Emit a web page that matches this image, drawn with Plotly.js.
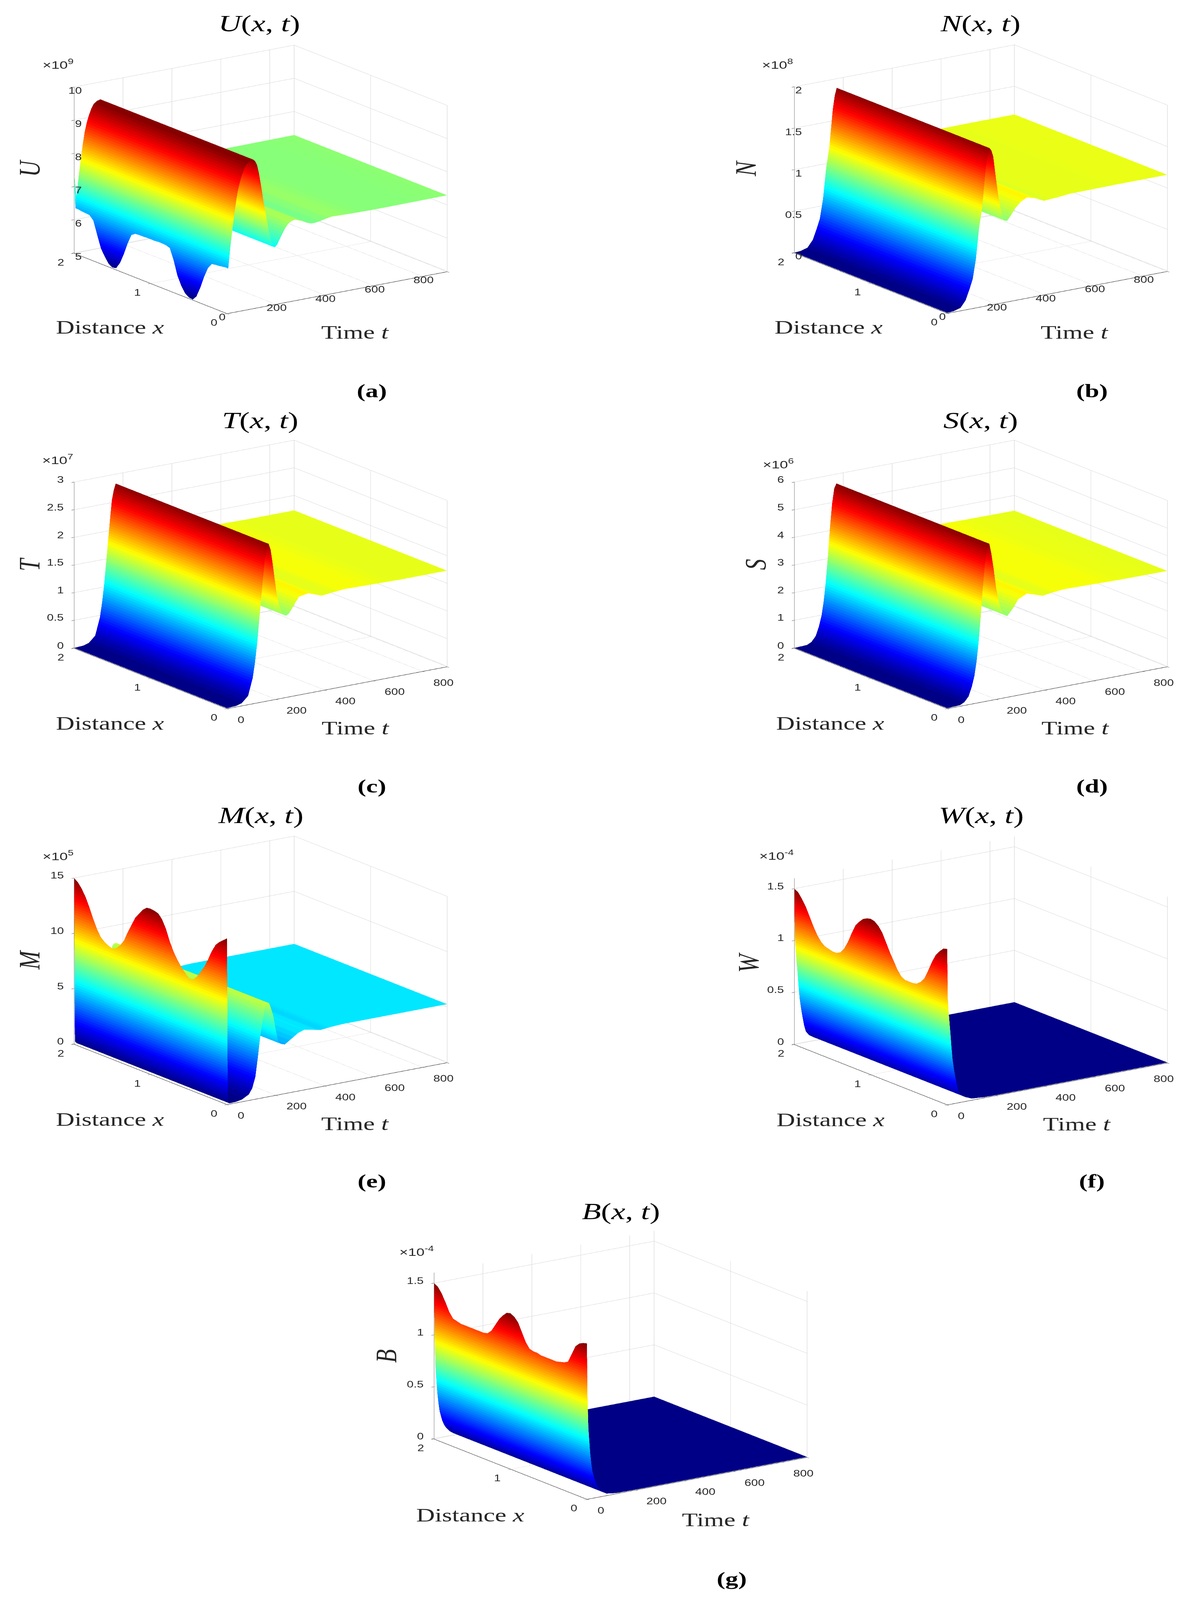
<!DOCTYPE html>
<html><head><meta charset="utf-8"><script src="https://cdn.plot.ly/plotly-3.0.1.min.js"></script>
<style>html,body{margin:0;padding:0;background:#fff}</style></head><body><div id="g" style="width:3040px;height:5476px;transform-origin:0 0"></div>
<script>
const distance=[0,.05,.1,.15,.2,.25,.3,.35,.4,.45,.5,.55,.6,.65,.7,.75,.8,.85,.9,.95,1,1.05,1.1,1.15,1.2,1.25,1.3,1.35,1.4,1.45,1.5,1.55,1.6,1.65,1.7,1.75,1.8,1.85,1.9,1.95,2];
const distanceTicks=[0,1,2];
const timeTicks=[0,200,400,600,800,900];
const timeLabels=['0','200','400','600','800',''];

const timeU=[0,5,13,20,27,35,43,51,59,70,80,93,107,115,123,130,136,143,149,156,163,171,179,187,195,205,214,224,237,251,264,277,292,309,326,344,361,379,403,427,470,512,592,672,900];
const valueU=[6.3,6.34,6.94,7.38,7.80,8.22,8.59,8.84,9.04,9.25,9.38,9.45,9.48,9.42,9.29,9.05,8.79,8.47,8.17,7.87,7.57,7.25,6.95,6.78,6.71,6.78,6.91,7.05,7.22,7.35,7.41,7.43,7.39,7.34,7.27,7.22,7.22,7.24,7.28,7.31,7.30,7.29,7.28,7.28,7.29];
const startU=[6.37,6.35,6.33,6.32,6.30,6.13,5.82,5.45,5.14,5.00,5.02,5.10,5.28,5.54,5.96,6.28,6.32,6.33,6.33,6.32,6.32,6.32,6.31,6.31,6.30,6.22,5.92,5.55,5.24,5.04,5.01,5.08,5.25,5.45,5.82,6.20,6.32,6.33,6.34,6.36,7.40];

const timeN=[0,25,54,75,91,104,117,130,142,150,157,165,173,180,188,197,207,216,226,235,244,260,276,300,326,360,395,450,501,700,900];
const valueN=[0,.005,.03,.11,.235,.35,.58,.95,1.17,1.42,1.64,1.80,1.89,1.86,1.78,1.56,1.33,1.16,1.03,.98,.97,1.03,1.10,1.17,1.21,1.18,1.13,1.14,1.155,1.16,1.16];

const timeT=[0,37,60,86,105,114,123,132,141,148,154,162,170,178,185,194,203,213,224,233,242,253,264,280,295,332,387,430,480,700,900];
const valueT=[0,.01,.04,.15,.46,.72,1.06,1.5,1.94,2.27,2.54,2.72,2.83,2.72,2.51,2.2,1.89,1.68,1.54,1.49,1.47,1.50,1.57,1.68,1.77,1.80,1.71,1.73,1.75,1.73,1.73];

const timeS=[0,52,70,87,100,111,120,128,137,145,154,163,172,180,190,200,212,225,235,245,258,272,290,326,360,390,430,477,700,900];
const valueS=[0,.02,.1,.28,.6,.98,1.5,2.15,3.1,4.07,4.95,5.5,5.66,5.3,4.7,4.0,3.45,3.1,2.98,2.92,3.05,3.2,3.45,3.6,3.5,3.41,3.46,3.5,3.46,3.45];

const timeM=[0,3,10,36,60,89,103,116,126,136,146,156,164,172,180,189,199,209,222,236,250,270,290,316,350,383,430,476,700,900];
const valueM=[15,.2,.03,.05,.15,.5,1.0,2,3.7,5.6,7.0,8.2,8.4,8.4,7.9,7.2,5.9,4.8,4.5,4.4,4.6,4.9,5.2,5.4,5.25,5.1,5.2,5.25,5.25,5.25];
const startM=[15,14.7,14.4,14,13.3,12.4,11.6,11,10.4,10.05,10.05,10.4,10.8,11.3,11.9,12.7,13.7,14.4,14.8,14.9,14.95,14.9,14.6,14.1,13.6,12.8,12,11.1,10.55,10.15,10,10.1,10.3,10.6,11.2,12,12.9,13.7,14.3,14.75,15];

const timeW=[0,2,6,13,17,22,28,33,40,47,60,76,100,150,200,400,600,900];
const valueW=[1.5,1.02,.88,.68,.55,.42,.32,.25,.16,.1,.06,.035,.012,.002,0,0,0,0];
const startW=[1.5,1.49,1.45,1.4,1.32,1.22,1.13,1.08,1.05,1.04,1.04,1.04,1.06,1.11,1.18,1.25,1.33,1.41,1.46,1.49,1.5,1.49,1.47,1.43,1.38,1.29,1.19,1.11,1.06,1.04,1.04,1.05,1.06,1.09,1.14,1.21,1.29,1.37,1.43,1.48,1.5];

const timeB=[0,2,6,13,18,23,33,42,50,65,80,120,200,400,600,900];
const valueB=[1.5,1,.68,.44,.33,.25,.16,.11,.08,.04,.015,.002,0,0,0,0];
const startB=[1.5,1.49,1.47,1.43,1.34,1.25,1.23,1.22,1.21,1.21,1.21,1.21,1.21,1.22,1.22,1.23,1.28,1.36,1.44,1.48,1.5,1.49,1.45,1.4,1.33,1.26,1.22,1.21,1.21,1.21,1.21,1.21,1.21,1.21,1.22,1.23,1.28,1.36,1.43,1.48,1.5];

const ticksU=[5,6,7,8,9,10], ticksN=[0,.5,1,1.5,2], ticksT=[0,.5,1,1.5,2,2.5,3], ticksS=[0,1,2,3,4,5,6], ticksM=[0,5,10,15], ticksW=[0,.5,1,1.5], ticksB=[0,.5,1,1.5];

const W=3040,H=5476,SIZE=1040,EYE=1.516,ASPECT=1.319;
const eyeDir={x:-.531,y:-.764,z:.3666};
const SANS='"Liberation Sans",Arial,sans-serif', SERIF='"Liberation Serif",serif';
const INK='rgb(38,38,38)';

function jet(){const out=[],c=v=>Math.round(255*Math.max(0,Math.min(1,v)));
 for(let i=0;i<64;i++){const v=(i+.5)/64;
  const col=`rgb(${c(Math.min(4*v-1.5,-4*v+4.5))},${c(Math.min(4*v-.5,-4*v+3.5))},${c(Math.min(4*v+.5,-4*v+2.5))})`;
  out.push([i/64,col],[(i+1)/64,col]);}
 return out;}
const JET=jet();

const panels=[
 {id:'',name:'U',tag:'a',t:timeU,v:valueU,s:startU,ticks:ticksU,range:[5,10],cmin:5,cmax:9.48,exp:'9',c:[667,614],title:[663,80],dist:[281,1120],time:[908,1136],zl:[75,576],mul:[148,219],lab:[952,1337],mode:'A'},
 {id:'2',name:'N',tag:'b',t:timeN,v:valueN,ticks:ticksN,range:[0,2],cmin:0,cmax:1.92,exp:'8',c:[2510,613],title:[2508,80],dist:[2120,1120],time:[2749,1136],zl:[1908,576],mul:[1990,219],lab:[2794,1337],mode:'A'},
 {id:'3',name:'T',tag:'c',t:timeT,v:valueT,ticks:ticksT,range:[0,3],cmin:0,cmax:2.87,exp:'7',c:[667,1966],title:[666,1438],dist:[281,2475],time:[909,2490],zl:[75,1932],mul:[147,1572],lab:[952,2690],mode:'B'},
 {id:'4',name:'S',tag:'d',t:timeS,v:valueS,ticks:ticksS,range:[0,6],cmin:0,cmax:5.72,exp:'6',c:[2510,1966],title:[2509,1438],dist:[2124,2475],time:[2751,2490],zl:[1933,1932],mul:[1991,1587],lab:[2794,2690],mode:'B'},
 {id:'5',name:'M',tag:'e',t:timeM,v:valueM,s:startM,ticks:ticksM,range:[0,15],cmin:0,cmax:15,exp:'5',c:[667,3321],title:[667,2790],dist:[281,3830],time:[908,3845],zl:[75,3285],mul:[148,2928],lab:[952,4042],mode:'B'},
 {id:'6',name:'W',tag:'f',t:timeW,v:valueW,s:startW,ticks:ticksW,range:[0,1.6],cmin:0,cmax:1.5,exp:'-4',c:[2510,3322],title:[2511,2790],dist:[2125,3831],time:[2755,3846],zl:[1915,3294],mul:[1987,2926],lab:[2794,4042],mode:'B'},
 {id:'7',name:'B',tag:'g',t:timeB,v:valueB,s:startB,ticks:ticksB,range:[0,1.6],cmin:0,cmax:1.5,exp:'-4',c:[1588,4672],title:[1589,4145],dist:[1203,5184],time:[1831,5200],zl:[988,4641],mul:[1066,4282],lab:[1872,5403],mode:'B'}
];

const traces=[],layout={width:W,height:H,margin:{l:0,r:0,t:0,b:0},paper_bgcolor:'#fff',showlegend:false,annotations:[]};
const paperNote=(p,text,size,family,color,extra)=>Object.assign({xref:'paper',yref:'paper',x:p[0]/W,y:1-p[1]/H,text,showarrow:false,xanchor:'center',yanchor:'middle',font:{size,family,color}},extra||{});
const sceneAxis=(vals,range)=>({range,tickmode:'array',tickvals:vals,showticklabels:false,ticks:'outside',ticklen:8,tickwidth:2,tickcolor:'rgb(60,60,60)',showgrid:true,gridcolor:'rgb(205,205,205)',gridwidth:2,showline:true,linecolor:'rgb(60,60,60)',linewidth:3,zeroline:false,showbackground:false,showspikes:false,title:{text:''}});
const note3=(x,y,z,text,xanchor,xshift,yshift)=>({x,y,z,text:String(text),showarrow:false,xanchor,yanchor:'middle',xshift,yshift,font:{size:31,family:SANS,color:INK}});

panels.forEach(p=>{
 const scene='scene'+p.id;
 const z=distance.map((d,j)=>p.t.map((t,i)=>(i===0&&p.s)?p.s[j]:p.v[i]));
 traces.push({type:'surface',scene,x:p.t,y:distance,z,cmin:p.cmin,cmax:p.cmax,colorscale:JET,showscale:false,hoverinfo:'skip',
  lighting:{ambient:1,diffuse:0,specular:0,roughness:1,fresnel:0},contours:{x:{show:false,highlight:false},y:{show:false,highlight:false},z:{show:false,highlight:false}}});
 const notes=[];
 const floorZ=p.range[0]-.003*(p.range[1]-p.range[0]);
 p.ticks.forEach(v=>{notes.push(p.mode==='A'?note3(0,2,v,v,'right',21,-13):note3(0,2,v,v,'right',-25,8));});
 distanceTicks.forEach(v=>notes.push(note3(0,v,p.range[0],v,'center',-34,-33)));
 timeTicks.forEach((v,i)=>{ if(!timeLabels[i])return;
  notes.push(p.mode==='A'?note3(v,0,p.range[0],timeLabels[i],'center',i===0?-13:2,-14):note3(v,0,p.range[0],timeLabels[i],'left',25,-40));});
 layout[scene]={domain:{x:[(p.c[0]-SIZE/2)/W,(p.c[0]+SIZE/2)/W],y:[1-(p.c[1]+SIZE/2)/H,1-(p.c[1]-SIZE/2)/H]},
  aspectmode:'manual',aspectratio:{x:ASPECT,y:ASPECT,z:.892*ASPECT},
  camera:{projection:{type:'orthographic'},up:{x:0,y:0,z:1},center:{x:0,y:0,z:0},eye:{x:eyeDir.x*EYE,y:eyeDir.y*EYE,z:eyeDir.z*EYE}},
  xaxis:sceneAxis(timeTicks,[0,900]),yaxis:sceneAxis(distanceTicks,[0,2]),zaxis:sceneAxis(p.ticks,[floorZ,p.range[1]]),annotations:notes,bgcolor:'#fff'};
 layout.annotations.push(
  paperNote(p.title,`<i>${p.name}</i>(<i>x</i>, <i>t</i>)`,80,SERIF,'#000'),
  paperNote(p.dist,'Distance <i>x</i>',66,SERIF,INK),
  paperNote(p.time,'Time <i>t</i>',66,SERIF,INK),
  paperNote(p.zl,`<i>${p.name}</i>`,76,SERIF,INK,{textangle:-90}),
  paperNote(p.mul,`×10<sup>${p.exp}</sup>`,38,SANS,INK),
  paperNote(p.lab,`<b>(${p.tag})</b>`,66,SERIF,'#000'));
});
// Fit the whole figure into the window when the window is shorter than the figure.
if(window.innerHeight<H){
 document.getElementById('g').style.transform=`scale(1,${window.innerHeight/H})`;
 document.documentElement.style.overflow='hidden';
 document.documentElement.style.height=window.innerHeight+'px';
 document.body.style.height=window.innerHeight+'px';
 document.body.style.overflow='hidden';
}
window.addEventListener('load',()=>setTimeout(()=>{
 Plotly.newPlot('g',traces,layout,{displayModeBar:false,plotGlPixelRatio:1,doubleClick:false,scrollZoom:false});
},10));
</script></body></html>
